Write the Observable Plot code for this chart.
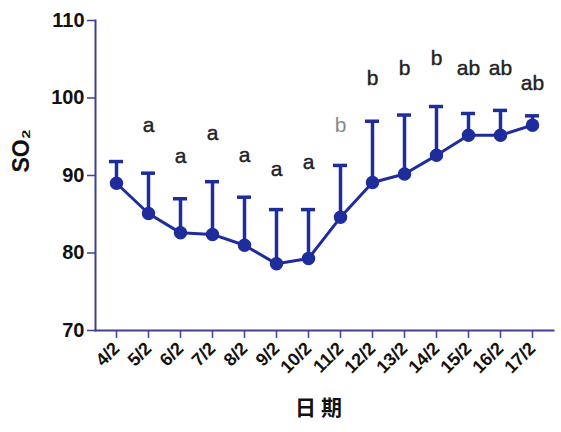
<!DOCTYPE html>
<html><head><meta charset="utf-8">
<script src="https://cdn.jsdelivr.net/npm/d3@7"></script>
<script src="https://cdn.jsdelivr.net/npm/@observablehq/plot@0.6"></script>
<style>body{margin:0;background:#fff}</style>
</head><body><div id="chart"></div>
<script>
const dates = ["4/2","5/2","6/2","7/2","8/2","9/2","10/2","11/2","12/2","13/2","14/2","15/2","16/2","17/2"];
const means = [89.0, 85.1, 82.6, 82.4, 81.0, 78.6, 79.3, 84.6, 89.1, 90.2, 92.6, 95.2, 95.2, 96.5];
const upper = [91.8, 90.3, 87.0, 89.2, 87.2, 85.6, 85.6, 91.3, 97.0, 97.8, 98.9, 98.0, 98.4, 97.7];
const letters = ["", "a", "a", "a", "a", "a", "a", "b", "b", "b", "b", "ab", "ab", "ab"];
const letterY = [null, 96.5, 92.5, 95.4, 92.6, 90.8, 91.7, 96.5, 102.5, 103.9, 105.1, 103.8, 103.8, 101.9];
const yTicks = [70, 80, 90, 100, 110];
const grayLetterDate = "11/2";

const data = dates.map((d, i) => ({date: d, mean: means[i], upper: upper[i], letter: letters[i], ly: letterY[i]}));
const blue = "#1f2d9c";
const axisColor = "#3d4190";
const font = "Liberation Sans, Arial, sans-serif";

const chart = Plot.plot({
  width: 561, height: 432,
  marginLeft: 95, marginRight: 8, marginTop: 20, marginBottom: 102,
  x: {type: "point", domain: dates, padding: 0.5, label: null},
  y: {domain: [70, 110], label: null},
  style: {fontFamily: font, background: "#fff"},
  marks: [
    Plot.frame({anchor: "left", stroke: axisColor, strokeWidth: 2}),
    Plot.frame({anchor: "bottom", stroke: axisColor, strokeWidth: 2}),
    Plot.axisY({ticks: yTicks, tickSize: 8, tickPadding: 3, fontSize: 20, fontWeight: "bold", stroke: axisColor, strokeWidth: 1.5, fill: "#111", label: null}),
    Plot.axisX({tickRotate: -45, tickSize: 8, tickPadding: 7, fontSize: 18, fontWeight: "bold", stroke: axisColor, strokeWidth: 1.5, fill: "#111", label: null}),
    Plot.ruleX(data, {x: "date", y1: "mean", y2: "upper", stroke: blue, strokeWidth: 3.5}),
    Plot.ruleY(data, {x1: "date", x2: "date", y: "upper", stroke: blue, strokeWidth: 3.5, insetLeft: -7, insetRight: -7}),
    Plot.line(data, {x: "date", y: "mean", stroke: blue, strokeWidth: 3}),
    Plot.dot(data, {x: "date", y: "mean", r: 6, fill: blue, stroke: blue}),
    Plot.text(data.filter(d => d.letter && d.date !== grayLetterDate), {x: "date", y: "ly", text: "letter", fontSize: 21, fill: "#222", stroke: "#222", strokeWidth: 0.4}),
    Plot.text(data.filter(d => d.letter && d.date === grayLetterDate), {x: "date", y: "ly", text: "letter", fontSize: 21, fill: "#8a8a8a"}),
    Plot.text(["SO₂"], {frameAnchor: "left", dx: -74, dy: -3, rotate: -90, fontSize: 23, fontWeight: "bold", fill: "#111"}),
    Plot.text(["日 期"], {frameAnchor: "bottom", dy: 84, dx: -6, fontSize: 21, fontWeight: "bold", fill: "#111", fontFamily: "Noto Sans CJK SC, sans-serif"})
  ]
});
document.getElementById("chart").appendChild(chart);
</script>
</body></html>
